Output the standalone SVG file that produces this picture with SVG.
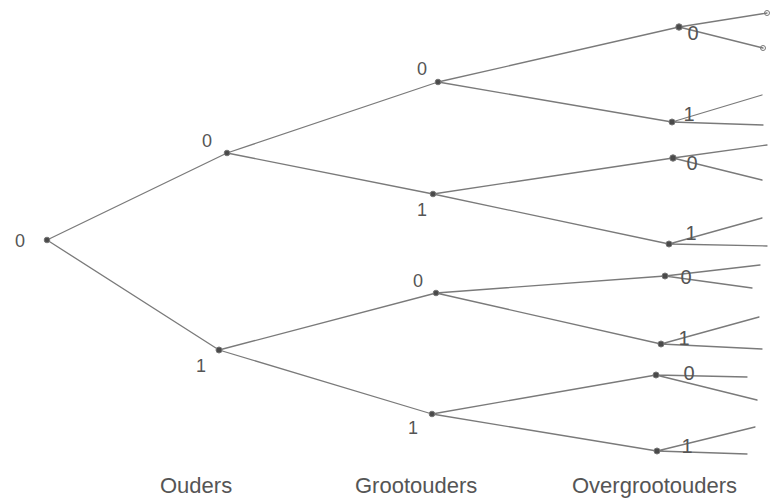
<svg xmlns="http://www.w3.org/2000/svg" width="774" height="501" viewBox="0 0 774 501">
<style>
.e{stroke:#7a7a7a;stroke-width:1.3;fill:none;stroke-linecap:round}
.n{fill:#4a4a4a;stroke:#777;stroke-width:1}
.lb{font-family:"Liberation Sans",Arial,sans-serif;font-size:18px;fill:#555;text-anchor:middle}
.mk{font-family:"Liberation Sans",Arial,sans-serif;font-size:20px;fill:#555;text-anchor:middle}
.cap{font-family:"Liberation Sans",Arial,sans-serif;font-size:22px;fill:#555}
.end{fill:none;stroke:#777;stroke-width:1}
</style>
<rect width="774" height="501" fill="#fff"/>
<g id="connectors">
<path class="e" d="M47,240 L227,153 M47,240 L219,350"/>
<path class="e" d="M227,153 L438,82 M227,153 L433,194 M219,350 L436,293 M219,350 L432,414"/>
<path class="e" d="M438,82 L679,27 M438,82 L672,122 M433,194 L673,158 M433,194 L669,244 M436,293 L665,276 M436,293 L661,344 M432,414 L656,375 M432,414 L657,451"/>
<path class="e" d="M679,27 L767,13 M679,27 L763,48 M672,122 L762,95 M672,122 L763,125 M673,158 L767,145 M673,158 L762,180 M669,244 L762,218 M669,244 L767,246 M665,276 L760,265 M665,276 L752,288 M661,344 L759,317 M661,344 L762,349 M656,375 L747,377 M656,375 L757,400 M657,451 L755,427 M657,451 L747,454"/>
<circle class="end" cx="767" cy="13" r="2.5"/>
<circle class="end" cx="763" cy="48" r="2.5"/>
</g>
<g id="root"><circle class="n" cx="47" cy="240" r="2.8"/><text class="lb" x="20" y="247">0</text></g>
<g id="p0"><circle class="n" cx="227" cy="153" r="2.8"/><text class="lb" x="207" y="147">0</text></g>
<g id="p1"><circle class="n" cx="219" cy="350" r="3"/><text class="lb" x="201" y="372">1</text></g>
<g id="g00"><circle class="n" cx="438" cy="82" r="2.8"/><text class="lb" x="422" y="75">0</text></g>
<g id="g01"><circle class="n" cx="433" cy="194" r="2.8"/><text class="lb" x="422" y="216">1</text></g>
<g id="g10"><circle class="n" cx="436" cy="293" r="2.8"/><text class="lb" x="418" y="287">0</text></g>
<g id="g11"><circle class="n" cx="432" cy="414" r="2.8"/><text class="lb" x="413" y="434">1</text></g>
<g id="o000"><circle class="n" cx="679" cy="27" r="3.2"/><text class="mk" x="693" y="40">0</text></g>
<g id="o001"><circle class="n" cx="672" cy="122" r="3"/><text class="mk" x="689" y="121">1</text></g>
<g id="o010"><circle class="n" cx="673" cy="158" r="3.2"/><text class="mk" x="692" y="170">0</text></g>
<g id="o011"><circle class="n" cx="669" cy="244" r="3"/><text class="mk" x="691" y="240">1</text></g>
<g id="o100"><circle class="n" cx="665" cy="276" r="3"/><text class="mk" x="686" y="284">0</text></g>
<g id="o101"><circle class="n" cx="661" cy="344" r="3"/><text class="mk" x="684" y="345">1</text></g>
<g id="o110"><circle class="n" cx="656" cy="375" r="3"/><text class="mk" x="689" y="380">0</text></g>
<g id="o111"><circle class="n" cx="657" cy="451" r="3"/><text class="mk" x="687" y="453">1</text></g>
<g id="labels">
<text class="cap" x="160" y="493">Ouders</text>
<text class="cap" x="355" y="493">Grootouders</text>
<text class="cap" x="572" y="493">Overgrootouders</text>
</g>
</svg>
